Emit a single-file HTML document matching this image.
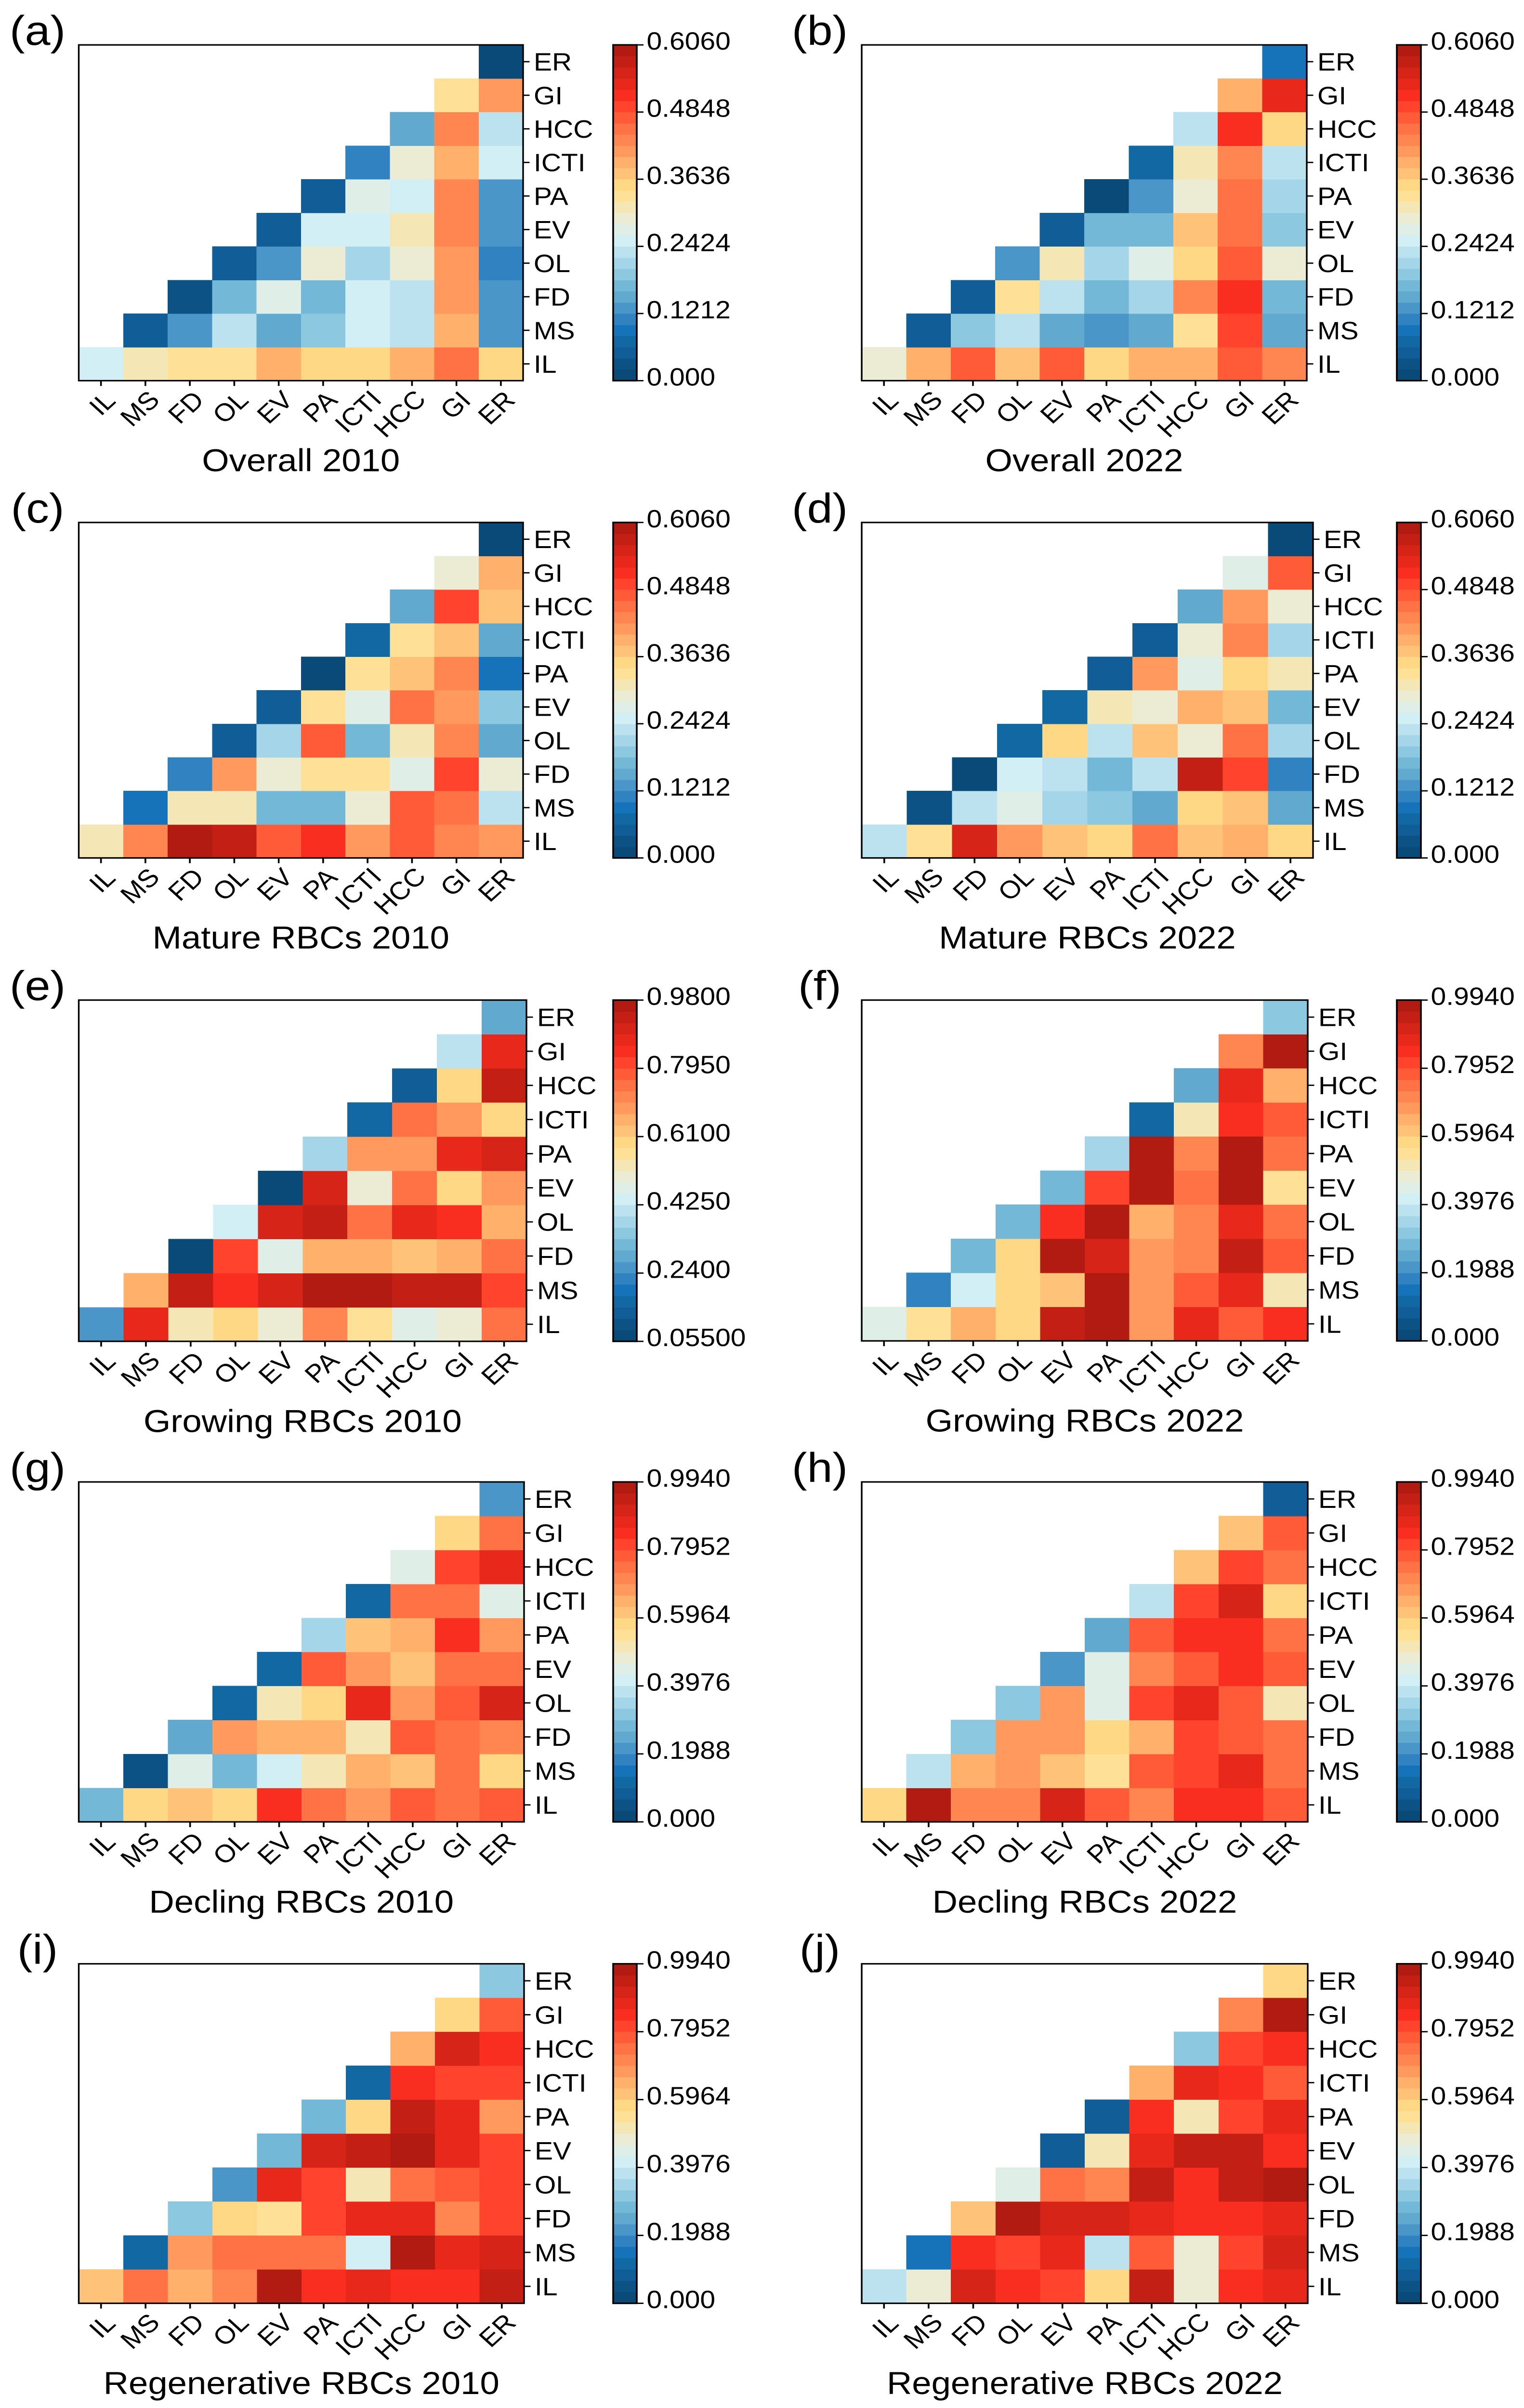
<!DOCTYPE html>
<html lang="en">
<head>
<meta charset="utf-8">
<title>Coupling heatmaps by RBC type, 2010 and 2022</title>
<style>
html,body{margin:0;padding:0;background:#fff;width:3164px;height:100vh;max-height:5497px;overflow:hidden;}
svg{display:block;width:3164px;height:100vh;max-height:5497px;}
text{font-family:"Liberation Sans",Arial,sans-serif;fill:#000;}
</style>
</head>
<body>
<svg id="figure" xmlns="http://www.w3.org/2000/svg" viewBox="0 0 3164 5497" preserveAspectRatio="none"></svg>
<script>
/* ---------- categories ---------- */
const categories = ['IL','MS','FD','OL','EV','PA','ICTI','HCC','GI','ER'];

/* ---------- colour-bar tick labels ---------- */
const ticks0606 = ['0.000','0.1212','0.2424','0.3636','0.4848','0.6060'];
const ticks0980 = ['0.05500','0.2400','0.4250','0.6100','0.7950','0.9800'];
const ticks0994 = ['0.000','0.1988','0.3976','0.5964','0.7952','0.9940'];

/* ---------- series values: rows from IL upward, each row from its diagonal cell to ER ---------- */
const overall2010 = [
[.253,.313,.333,.333,.394,.354,.354,.394,.455,.354],
[.051,.131,.232,.152,.192,.253,.232,.394,.131],
[.030,.172,.273,.172,.253,.232,.414,.131],
[.051,.131,.293,.212,.293,.414,.111],
[.051,.253,.253,.313,.434,.131],
[.051,.273,.253,.434,.131],
[.111,.293,.394,.253],
[.152,.434,.232],
[.333,.414],
[.010]];
const overall2022 = [
[.293,.394,.475,.374,.475,.354,.394,.394,.475,.434],
[.051,.192,.232,.152,.131,.152,.333,.495,.152],
[.051,.333,.232,.172,.212,.434,.515,.172],
[.131,.313,.212,.273,.354,.475,.293],
[.051,.172,.172,.374,.455,.192],
[.010,.131,.293,.455,.212],
[.071,.313,.434,.232],
[.232,.515,.354],
[.394,.535],
[.091]];
const mature2010 = [
[.313,.434,.596,.576,.475,.515,.414,.475,.434,.414],
[.091,.313,.313,.172,.172,.293,.475,.455,.232],
[.111,.414,.293,.333,.333,.273,.495,.293],
[.051,.212,.475,.172,.313,.434,.152],
[.051,.333,.273,.455,.414,.192],
[.010,.333,.374,.434,.091],
[.071,.333,.374,.152],
[.152,.495,.374],
[.293,.394],
[.010]];
const mature2022 = [
[.232,.333,.556,.414,.374,.354,.455,.374,.394,.354],
[.030,.232,.273,.212,.192,.152,.354,.374,.152],
[.010,.253,.232,.172,.232,.576,.495,.111],
[.071,.354,.232,.374,.293,.455,.212],
[.071,.313,.293,.394,.374,.172],
[.051,.414,.273,.354,.313],
[.051,.293,.434,.212],
[.152,.414,.293],
[.273,.475],
[.010]];
const growing2010 = [
[.255,.872,.533,.595,.502,.718,.564,.471,.502,.749],
[.656,.934,.841,.903,.965,.965,.934,.934,.810],
[.070,.810,.471,.656,.656,.625,.656,.749],
[.440,.903,.934,.749,.872,.841,.656],
[.070,.903,.502,.749,.595,.687],
[.379,.687,.687,.872,.903],
[.163,.749,.687,.595],
[.132,.595,.934],
[.410,.872],
[.286]];
const growing2022 = [
[.447,.547,.646,.580,.944,.977,.679,.878,.779,.845],
[.182,.414,.580,.613,.977,.679,.779,.878,.514],
[.282,.580,.977,.911,.679,.712,.944,.779],
[.282,.845,.977,.646,.712,.878,.745],
[.282,.812,.977,.745,.977,.547],
[.348,.977,.712,.977,.745],
[.116,.514,.845,.779],
[.248,.878,.646],
[.712,.977],
[.315]];
const decling2010 = [
[.282,.580,.613,.580,.845,.745,.679,.779,.745,.779],
[.050,.447,.282,.414,.514,.646,.613,.745,.580],
[.248,.679,.646,.646,.514,.779,.745,.712],
[.116,.514,.580,.878,.679,.779,.911],
[.116,.779,.679,.613,.745,.745],
[.348,.613,.646,.845,.679],
[.116,.745,.745,.447],
[.447,.812,.878],
[.580,.745],
[.215]];
const decling2022 = [
[.580,.977,.712,.712,.911,.779,.712,.845,.845,.779],
[.381,.646,.679,.613,.547,.779,.812,.878,.745],
[.315,.679,.679,.580,.646,.812,.779,.745],
[.315,.679,.447,.812,.878,.779,.514],
[.215,.447,.712,.779,.845,.779],
[.248,.779,.845,.845,.745],
[.381,.812,.911,.580],
[.613,.812,.745],
[.613,.779],
[.083]];
const regenerative2010 = [
[.613,.745,.646,.712,.977,.845,.878,.845,.845,.944],
[.116,.679,.745,.745,.745,.414,.977,.878,.911],
[.315,.580,.547,.812,.878,.878,.712,.812],
[.215,.878,.812,.514,.745,.779,.812],
[.282,.911,.944,.977,.878,.812],
[.282,.580,.944,.878,.679],
[.116,.845,.812,.812],
[.646,.911,.845],
[.580,.779],
[.315]];
const regenerative2022 = [
[.381,.480,.911,.845,.812,.580,.944,.480,.845,.878],
[.149,.845,.812,.878,.381,.779,.480,.812,.911],
[.613,.977,.911,.911,.878,.845,.845,.878],
[.447,.745,.712,.944,.845,.944,.977],
[.083,.514,.878,.944,.944,.845],
[.083,.845,.514,.812,.878],
[.646,.878,.845,.779],
[.315,.812,.845],
[.712,.977],
[.580]];

/* ---------- 30-step colour map, low to high ---------- */
const palette = ['#0a4a78','#0c5285','#105d98','#1168a3','#1673b9','#3083c0','#4b96c8','#62a9d0','#74b8d8','#8cc8e0',
'#a5d5e8','#bce2ef','#d2eff6','#dfefe8','#ecebd3','#f5e6b5','#fee097','#ffd885','#fec379','#ffb06b',
'#ff995e','#ff8650','#ff7245','#ff5b39','#ff432c','#f92e21','#e7281b','#d62419','#c31f15','#b11b12'];

/* ---------- panel definitions ---------- */
const panels = [
 {letter:'(a)',title:'Overall 2010',values:overall2010,ticks:ticks0606,l:163.5,r:1086,t:102.5,b:869,col:0},
 {letter:'(b)',title:'Overall 2022',values:overall2022,ticks:ticks0606,l:1789,r:2713,t:102.5,b:869,col:1},
 {letter:'(c)',title:'Mature RBCs 2010',values:mature2010,ticks:ticks0606,l:163.5,r:1086,t:1192.7,b:1958.5,col:0},
 {letter:'(d)',title:'Mature RBCs 2022',values:mature2022,ticks:ticks0606,l:1789,r:2726,t:1192.7,b:1958.5,col:1},
 {letter:'(e)',title:'Growing RBCs 2010',values:growing2010,ticks:ticks0980,l:163.5,r:1093,t:2283,b:3062,col:0},
 {letter:'(f)',title:'Growing RBCs 2022',values:growing2022,ticks:ticks0994,l:1789,r:2715,t:2283,b:3061,col:1},
 {letter:'(g)',title:'Decling RBCs 2010',values:decling2010,ticks:ticks0994,l:163.5,r:1088,t:3383,b:4159,col:0},
 {letter:'(h)',title:'Decling RBCs 2022',values:decling2022,ticks:ticks0994,l:1789,r:2715,t:3383,b:4159,col:1},
 {letter:'(i)',title:'Regenerative RBCs 2010',values:regenerative2010,ticks:ticks0994,l:163.5,r:1088,t:4483,b:5258,col:0},
 {letter:'(j)',title:'Regenerative RBCs 2022',values:regenerative2022,ticks:ticks0994,l:1789,r:2715,t:4483,b:5258,col:1}
];

const SVGNS = 'http://www.w3.org/2000/svg';
const root = document.getElementById('figure');
const barLeft = [1273, 2900];
const barRight = [1322, 2950];
const letterX = [78, 1702];
const TICK_FONT = 57, TITLE_FONT = 72.5, LETTER_FONT = 95;

function make(parent, tag, attrs, text){
  const node = document.createElementNS(SVGNS, tag);
  for (const k in attrs) node.setAttribute(k, attrs[k]);
  if (text !== undefined) node.textContent = text;
  parent.appendChild(node);
  return node;
}
function colorFor(v, lo, hi){
  const i = Math.floor((v - lo) / (hi - lo) * palette.length);
  return palette[Math.max(0, Math.min(palette.length - 1, i))];
}
function drawPanel(p){
  const g = make(root, 'g', {});
  
  

  const lo = parseFloat(p.ticks[0]);
  const hi = parseFloat(p.ticks[p.ticks.length - 1]);
  const n = categories.length;
  const xScale = c => p.l + (p.r - p.l) * c / n;
  const yScale = r => p.b - (p.b - p.t) * r / n;

  /* panel letter */
  const letter = make(g, 'text', {x: letterX[p.col], y: p.t, 'text-anchor': 'middle', 'font-size': LETTER_FONT}, p.letter);
  
  

  /* heatmap cells */
  p.values.forEach(function(row, r){
    row.forEach(function(v, k){
      const c = r + k;
      const cell = make(g, 'rect', {
        x: xScale(c), y: yScale(r + 1),
        width: xScale(c + 1) - xScale(c) + 0.6,
        height: yScale(r) - yScale(r + 1) + 0.6,
        fill: colorFor(v, lo, hi), 'shape-rendering': 'crispEdges'
      });
      
      
    });
  });

  /* plot frame */
  const frame = make(g, 'rect', {x: p.l, y: p.t, width: p.r - p.l, height: p.b - p.t, fill: 'none', stroke: '#000', 'stroke-width': 3.4});
  
  

  /* axes ticks and labels */
  categories.forEach(function(name, i){
    const cx = (xScale(i) + xScale(i + 1)) / 2;
    const cy = (yScale(i) + yScale(i + 1)) / 2;

    const xt = make(g, 'line', {x1: cx, x2: cx, y1: p.b, y2: p.b + 12, stroke: '#000', 'stroke-width': 3.6});
    
    

    const yt = make(g, 'line', {x1: p.r, x2: p.r + 13.5, y1: cy, y2: cy, stroke: '#000', 'stroke-width': 3});
    
    

    const yl = make(g, 'text', {x: p.r + 22, y: cy + TICK_FONT * 0.356, 'font-size': TICK_FONT}, name);
    
    

    const xl = make(g, 'text', {'font-size': TICK_FONT, 'text-anchor': 'middle'}, name);
    
    
    const len = xl.getComputedTextLength();
    const lx = cx + 20 - 0.37 * len;
    const ly = p.b + 25 + 0.31 * (len + 39);
    xl.setAttribute('x', lx);
    xl.setAttribute('y', ly + TICK_FONT * 0.344);
    xl.setAttribute('transform', 'rotate(-45 ' + lx + ' ' + ly + ')');
  });

  /* axis title */
  const title = make(g, 'text', {x: (p.l + p.r) / 2, y: p.b + 207, 'text-anchor': 'middle', 'font-size': TITLE_FONT}, p.title);
  
  

  /* colour bar */
  const bl = barLeft[p.col], br = barRight[p.col];
  const vScale = v => p.b - (p.b - p.t) * (v - lo) / (hi - lo);
  const bar = make(g, 'g', {});
  
  
  palette.forEach(function(color, i){
    const vA = lo + (hi - lo) * i / palette.length;
    const vB = lo + (hi - lo) * (i + 1) / palette.length;
    const step = make(bar, 'rect', {x: bl, y: vScale(vB), width: br - bl, height: vScale(vA) - vScale(vB) + 0.6, fill: color, 'shape-rendering': 'crispEdges'});
    
    
  });
  const barFrame = make(bar, 'rect', {x: bl, y: p.t, width: br - bl, height: p.b - p.t, fill: 'none', stroke: '#000', 'stroke-width': 3.6});
  
  
  p.ticks.forEach(function(label){
    const ty = vScale(parseFloat(label));
    const tick = make(bar, 'line', {x1: br, x2: br + 14, y1: ty, y2: ty, stroke: '#000', 'stroke-width': 3});
    
    
    const tl = make(bar, 'text', {x: br + 20.5, y: ty + 11, 'font-size': TICK_FONT}, label);
    
    
  });
}
panels.forEach(drawPanel);
</script>
</body>
</html>
